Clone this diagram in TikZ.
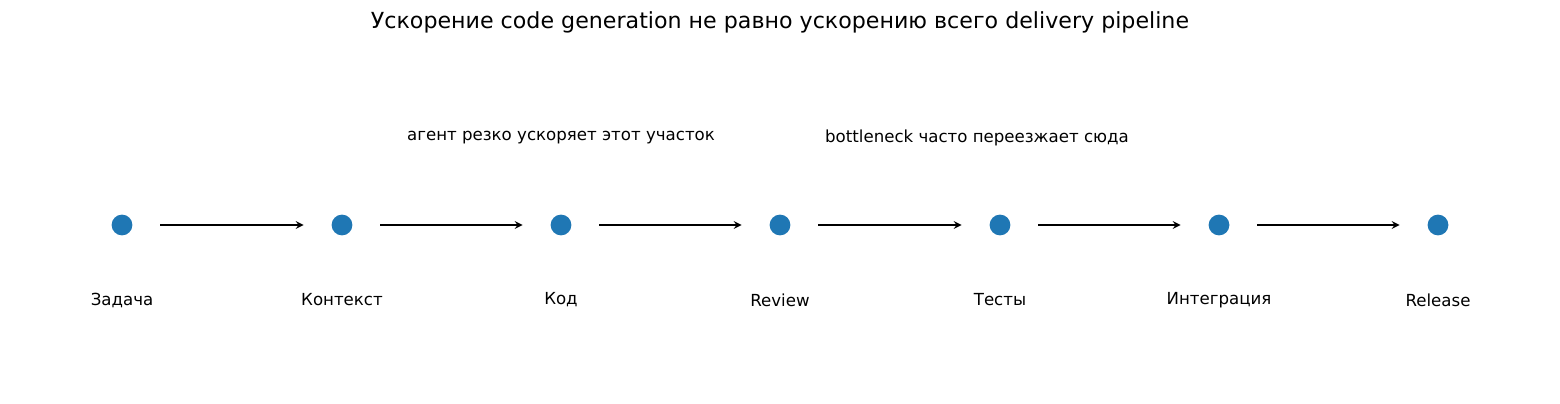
\documentclass[tikz,border=0pt]{standalone}
\usepackage{fontspec}
\setmainfont{DejaVu Sans}
\definecolor{dotblue}{HTML}{1F77B4}
\tikzset{
  stage/.style = {circle, fill = dotblue, minimum size = 15pt, inner sep = 0pt},
  flow/.style = {line width = 1.5pt, -stealth},
  caption/.style = {font = \fontsize{12}{14}\selectfont}
}

\begin{document}
\begin{tikzpicture}[x = 0.01in, y = -0.01in]
\useasboundingbox (0,0) rectangle (1560,404);

\node (title) at (780,22) {\fontsize{16}{19}\selectfont Ускорение code generation не равно ускорению всего delivery pipeline};

\foreach \x/\name [count = \i] in {122/Задача, 342/Контекст, 561/Код, 780/Review, 1000/Тесты, 1219/Интеграция, 1438/Release}
{
  \node [stage] (d\i) at (\x,225) {};
  \node [caption] (t\i) at (\x,300) {\name};
}

\foreach \i [evaluate = \i as \j using int(\i+1)] in {1,...,6}
  \draw [flow] ([xshift = 20] d\i.east) -- ([xshift = -20] d\j.west);

\node [caption] (fast) at (561,138) {агент резко ускоряет этот участок};
\node [caption] (slow) at (977,138) {bottleneck часто переезжает сюда};
\end{tikzpicture}
\end{document}
